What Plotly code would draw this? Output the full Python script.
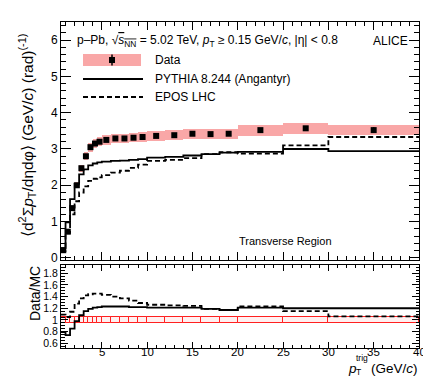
import plotly.graph_objects as go

# bin edges of p_T^trig (GeV/c)
edges = [0.5, 1, 1.5, 2, 2.5, 3, 3.5, 4, 4.5, 5, 6, 7, 8, 9, 10, 12, 14, 16, 18, 20, 25, 30, 40]
x_ticks = [5, 10, 15, 20, 25, 30, 35, 40]

# ALICE data, transverse region
data = [0.21, 0.72, 1.37, 2.00, 2.47, 2.80, 3.05, 3.15, 3.20, 3.25, 3.29, 3.29, 3.31, 3.33,
        3.36, 3.38, 3.42, 3.41, 3.42, 3.52, 3.57, 3.52]
data_stat = [0.01, 0.01, 0.01, 0.01, 0.01, 0.01, 0.01, 0.01, 0.01, 0.01, 0.01, 0.01, 0.01, 0.01,
             0.01, 0.01, 0.02, 0.02, 0.02, 0.03, 0.05, 0.08]
data_sys = [0.01, 0.03, 0.05, 0.08, 0.10, 0.11, 0.12, 0.12, 0.13, 0.13, 0.13, 0.13, 0.13, 0.13,
            0.13, 0.13, 0.14, 0.14, 0.14, 0.15, 0.15, 0.14]

# models
pythia = [0.27, 0.98, 1.62, 2.04, 2.30, 2.44, 2.55, 2.60, 2.63, 2.65, 2.67, 2.68, 2.70, 2.72,
          2.76, 2.78, 2.82, 2.86, 2.90, 2.92, 3.00, 2.94]
epos = [0.19, 0.69, 1.20, 1.56, 1.80, 1.97, 2.12, 2.18, 2.22, 2.28, 2.35, 2.40, 2.48, 2.57,
        2.67, 2.70, 2.75, 2.86, 2.91, 2.87, 3.10, 3.33]

# Data/MC
ratio_pythia = [0.79, 0.74, 0.85, 0.98, 1.08, 1.15, 1.19, 1.21, 1.22, 1.23, 1.23, 1.23, 1.22, 1.22,
                1.21, 1.21, 1.21, 1.19, 1.17, 1.21, 1.20, 1.20]
ratio_epos = [1.09, 1.05, 1.14, 1.28, 1.37, 1.42, 1.44, 1.45, 1.45, 1.43, 1.40, 1.37, 1.33, 1.29,
              1.26, 1.25, 1.24, 1.19, 1.17, 1.23, 1.15, 1.06]
ratio_unc = [0.05, 0.05, 0.05, 0.05, 0.05, 0.045, 0.045, 0.045, 0.045, 0.045, 0.045, 0.045, 0.045,
             0.045, 0.045, 0.045, 0.045, 0.045, 0.045, 0.045, 0.045, 0.045]

centers = [(a + b) / 2 for a, b in zip(edges[:-1], edges[1:])]
widths = [b - a for a, b in zip(edges[:-1], edges[1:])]

FONT = "Liberation Sans, Arial, sans-serif"
PINK = "#F9A7A7"
DASH = "5px,3px"

W, H = 431, 376
ML, MR, MT, MB = 53, 20, 14, 36
PW, PH = W - ML - MR, H - MT - MB


def px(x):
    return (x - ML) / PW


def py(y):
    return (H - MB - y) / PH


fig = go.Figure()

# top panel
fig.add_trace(go.Bar(x=centers, width=widths, base=[d - s for d, s in zip(data, data_sys)],
                     y=[2 * s for s in data_sys], marker=dict(color=PINK, line=dict(width=0)),
                     xaxis="x", yaxis="y", showlegend=False, hoverinfo="skip"))
fig.add_trace(go.Scatter(x=edges, y=pythia + [pythia[-1]], mode="lines", line_shape="hv",
                         line=dict(color="black", width=1.8), xaxis="x", yaxis="y", showlegend=False))
fig.add_trace(go.Scatter(x=edges, y=epos + [epos[-1]], mode="lines", line_shape="hv",
                         line=dict(color="black", width=1.8, dash=DASH), xaxis="x", yaxis="y",
                         showlegend=False))
fig.add_trace(go.Scatter(x=centers, y=data, mode="markers",
                         marker=dict(symbol="square", size=6, color="black"),
                         error_y=dict(type="data", array=data_stat, color="black", thickness=1.5, width=0),
                         xaxis="x", yaxis="y", showlegend=False))

# ratio panel
fig.add_trace(go.Bar(x=centers, width=widths, base=[1 - u for u in ratio_unc],
                     y=[2 * u for u in ratio_unc],
                     marker=dict(color="rgba(255,0,0,0.06)", line=dict(color="#FF2020", width=1)),
                     xaxis="x2", yaxis="y2", showlegend=False, hoverinfo="skip"))
fig.add_trace(go.Scatter(x=edges, y=ratio_pythia + [ratio_pythia[-1]], mode="lines", line_shape="hv",
                         line=dict(color="black", width=1.8), xaxis="x2", yaxis="y2", showlegend=False))
fig.add_trace(go.Scatter(x=edges, y=ratio_epos + [ratio_epos[-1]], mode="lines", line_shape="hv",
                         line=dict(color="black", width=1.8, dash=DASH), xaxis="x2", yaxis="y2",
                         showlegend=False))

axis_common = dict(showline=True, linecolor="black", linewidth=1, mirror="allticks",
                   ticks="inside", tickcolor="black", showgrid=False, zeroline=False,
                   tickfont=dict(family=FONT, size=12, color="black"))

fig.update_layout(
    width=W, height=H,
    margin=dict(l=ML, r=MR, t=MT, b=MB),
    paper_bgcolor="white", plot_bgcolor="white",
    barmode="overlay", bargap=0,
    font=dict(family=FONT, color="black"),
    xaxis=dict(axis_common, range=[0.5, 40], anchor="y", dtick=5, tick0=0, ticklen=8,
               showticklabels=False, minor=dict(ticks="inside", dtick=1, ticklen=4, tickcolor="black")),
    yaxis=dict(axis_common, range=[-0.06, 6.5], domain=[py(252), 1], anchor="x", dtick=1,
               ticklen=10, minor=dict(ticks="inside", dtick=0.2, ticklen=5, tickcolor="black")),
    xaxis2=dict(axis_common, range=[0.5, 40], anchor="y2", dtick=5, tick0=0, ticklen=6,
                showticklabels=False,
                minor=dict(ticks="inside", dtick=1, ticklen=3, tickcolor="black")),
    yaxis2=dict(axis_common, range=[0.52, 1.94], domain=[0, py(257)], anchor="x2", dtick=0.2,
                tick0=0.6, ticklen=7, tickfont=dict(family=FONT, size=10.5, color="black"),
                minor=dict(ticks="inside", dtick=0.05, ticklen=3.5, tickcolor="black")),
)

# x tick labels of the ratio panel, set close under the frame as in ROOT
for t in x_ticks:
    fig.add_annotation(text=str(t), xref="x2", yref="paper", x=t, y=py(344), xanchor="center",
                       yanchor="middle", showarrow=False, borderpad=0,
                       font=dict(family=FONT, size=11.5, color="black"))

# legend drawn as in the original
fig.add_shape(type="rect", xref="paper", yref="paper", x0=px(75), x1=px(133), y0=py(58), y1=py(46),
              fillcolor=PINK, line=dict(width=0))
fig.add_shape(type="line", xref="paper", yref="paper", x0=px(104), x1=px(104), y0=py(57.5), y1=py(46.5),
              line=dict(color="black", width=1.5))
fig.add_shape(type="rect", xref="paper", yref="paper", x0=px(101), x1=px(107), y0=py(55), y1=py(49),
              fillcolor="black", line=dict(width=0))
fig.add_shape(type="line", xref="paper", yref="paper", x0=px(75), x1=px(135), y0=py(71), y1=py(71),
              line=dict(color="black", width=1.8))
fig.add_shape(type="line", xref="paper", yref="paper", x0=px(75), x1=px(135), y0=py(89), y1=py(89),
              line=dict(color="black", width=1.8, dash=DASH))


def note(text, x, y, size=12, xanchor="left", angle=0):
    fig.add_annotation(text=text, xref="paper", yref="paper", x=px(x), y=py(y), xanchor=xanchor,
                       yanchor="middle", showarrow=False, textangle=angle, borderpad=0,
                       font=dict(family=FONT, size=size, color="black"))


note("p\u2013Pb, \u221A<span style='text-decoration:overline'><i>s</i><sub>NN</sub></span> = 5.02 TeV, "
     "<i>p</i><sub>T</sub> \u2265 0.15 GeV/<i>c</i>, |\u03B7| < 0.8", 68, 33)
note("ALICE", 364, 33)
note("Data", 146, 52)
note("PYTHIA 8.244 (Angantyr)", 146, 71)
note("EPOS LHC", 146, 89)
note("Transverse Region", 277, 233, size=11, xanchor="center")

note("\u27E8d<sup>2</sup>\u03A3<i>p</i><sub>T</sub>/d\u03B7d\u03C6\u27E9 (GeV/<i>c</i>) (rad)<sup>(-1)</sup>",
     19, 128, size=15.5, xanchor="center", angle=-90)
note("Data/MC", 27, 285, size=14, xanchor="center", angle=-90)

# x axis title p_T^trig (GeV/c)
note("<i>p</i>", 339, 360, size=13.5)
note("trig", 347, 349.5, size=8.5)
note("T", 347, 364, size=8.5)
note("(GeV/<i>c</i>)", 411, 360, size=13.5, xanchor="right")

fig.write_html("out.html")
